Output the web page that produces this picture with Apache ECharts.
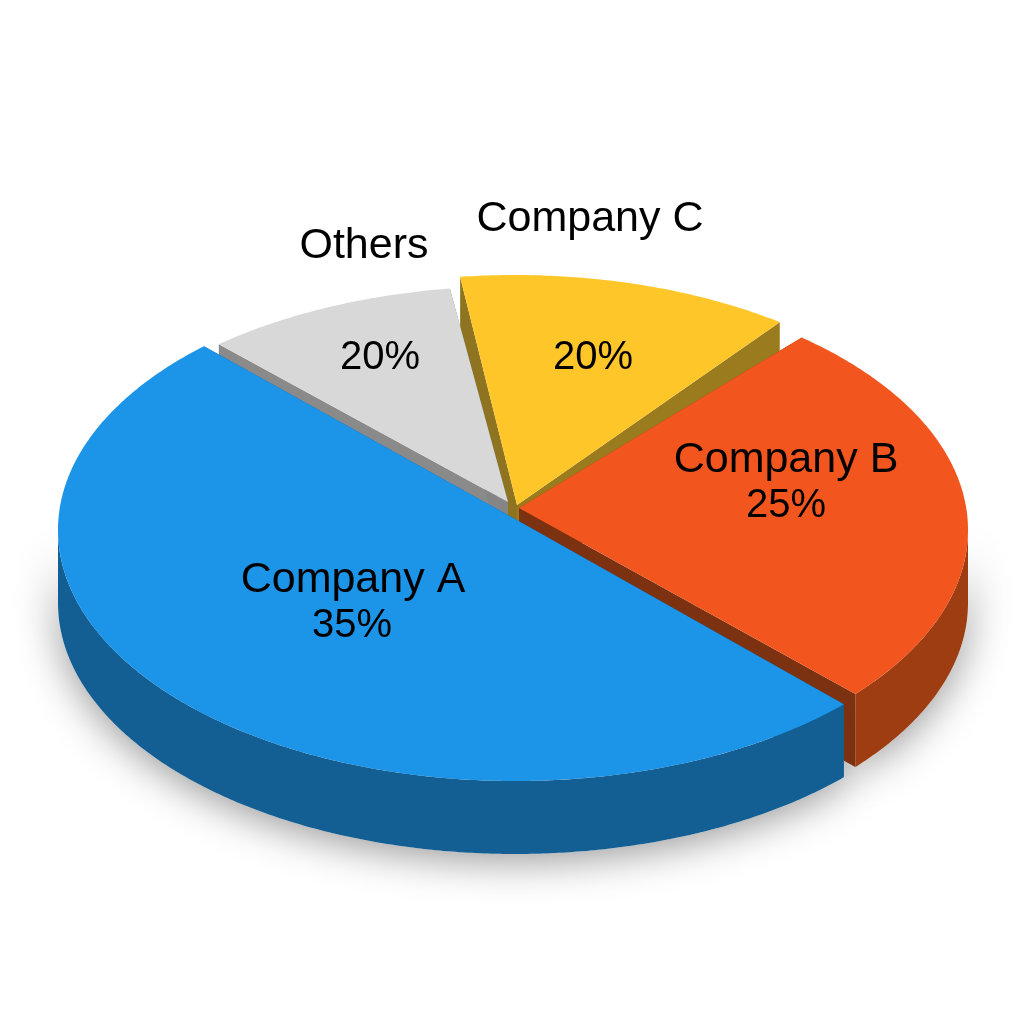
<!DOCTYPE html>
<html>
<head>
<meta charset="utf-8">
<style>html,body{margin:0;padding:0;background:#fff}#chart{width:1024px;height:1024px}</style>
<script src="https://cdn.jsdelivr.net/npm/echarts@6/dist/echarts.min.js"></script>
</head>
<body>
<div id="chart"></div>
<script>
// Data, listed back to front (the order in which the slices overlap)
var categories = ['Company C', 'Others', 'Company B', 'Company A'];
var shares = [20, 20, 25, 35];               // printed percentages
var drawnSweep = [42.3, 32.2, 91.8, 183.1];  // angle each slice actually spans in the picture, degrees

// Layout and styles
var startAngle = [-96.9, 229.6, -50.6, 44];
var apex = [[517, 505], [508, 502], [519, 508], [515, 519]];
var arcCentre = [[515, 530], [515, 530], [513, 530], [515, 530]];
var arcRadius = [[457, 255], [457, 244], [455, 249], [457, 251]];
var depth = 73;
var topColor = ['#FFC629', '#D8D8D9', '#F2561E', '#1C94E8'];
var rimColor = ['#9A7B1E', '#8A8A8A', '#9E3C12', '#135F93'];
var startCutColor = ['#8E7420', '#8A8A8A', '#9E3C12', '#135F93'];
var endCutColor = ['#9A7B1E', '#858585', '#7C3110', '#135F93'];
var castsShadow = [false, false, true, true];
var nameAt = [[590, 219], [364, 246], [786, 460], [353, 580]];
var shareAt = [[593, 358], [380, 358], [786, 506], [352, 626]];

function arcPoints(i, from, to) {
  var pts = [];
  var steps = Math.ceil((to - from) * 2);
  for (var k = 0; k <= steps; k++) {
    var t = (from + (to - from) * k / steps) * Math.PI / 180;
    pts.push([arcCentre[i][0] + arcRadius[i][0] * Math.cos(t),
              arcCentre[i][1] + arcRadius[i][1] * Math.sin(t)]);
  }
  return pts;
}
function down(pts) { return pts.map(function (p) { return [p[0], p[1] + depth]; }); }
function wall(a) { return a.concat(down(a).reverse()); }
// The outer wall of a cylinder only shows on the front half of the ellipse.
function frontWall(i, sweep) {
  var from = Math.max(startAngle[i], 0), to = Math.min(startAngle[i] + sweep, 180);
  return from < to ? wall(arcPoints(i, from, to)) : null;
}

function renderShadow(params, api) {
  var i = params.dataIndex;
  var pts = castsShadow[i] ? frontWall(i, api.value(1)) : null;
  if (!pts) return { type: 'group', children: [] };
  return {
    type: 'polygon',
    shape: { points: pts },
    style: { fill: '#ffffff', shadowBlur: 42, shadowColor: 'rgba(0,0,0,0.42)', shadowOffsetX: 0, shadowOffsetY: 6 }
  };
}

function renderSlice(params, api) {
  var i = params.dataIndex;
  var sweep = api.value(1);
  var arc = arcPoints(i, startAngle[i], startAngle[i] + sweep);
  var first = arc[0], last = arc[arc.length - 1];
  var rim = frontWall(i, sweep);
  var font = '43px "Liberation Sans", Arial, sans-serif';
  var pctFont = '40px "Liberation Sans", Arial, sans-serif';
  var children = [
    { type: 'polygon', shape: { points: wall([apex[i], first]) }, style: { fill: startCutColor[i] } },
    { type: 'polygon', shape: { points: wall([apex[i], last]) }, style: { fill: endCutColor[i] } }
  ];
  if (rim) children.push({ type: 'polygon', shape: { points: rim }, style: { fill: rimColor[i] } });
  children.push(
    { type: 'polygon', shape: { points: [apex[i]].concat(arc) }, style: { fill: topColor[i] } },
    { type: 'text', z2: 10, style: { x: nameAt[i][0], y: nameAt[i][1], text: categories[i], font: font, fill: '#000', align: 'center', verticalAlign: 'middle' } },
    { type: 'text', z2: 10, style: { x: shareAt[i][0], y: shareAt[i][1], text: api.value(0) + '%', font: pctFont, fill: '#000', align: 'center', verticalAlign: 'middle' } }
  );
  return { type: 'group', children: children };
}

var seriesData = categories.map(function (name, i) {
  return { name: name, value: [shares[i], drawnSweep[i]] };
});

var chart = echarts.init(document.getElementById('chart'), null, { renderer: 'canvas' });
chart.setOption({
  animation: false,
  backgroundColor: '#ffffff',
  series: [
    { type: 'custom', silent: true, z: 1, coordinateSystem: 'none', renderItem: renderShadow, data: seriesData },
    { type: 'custom', silent: true, z: 2, coordinateSystem: 'none', renderItem: renderSlice, data: seriesData }
  ]
});
</script>
</body>
</html>
